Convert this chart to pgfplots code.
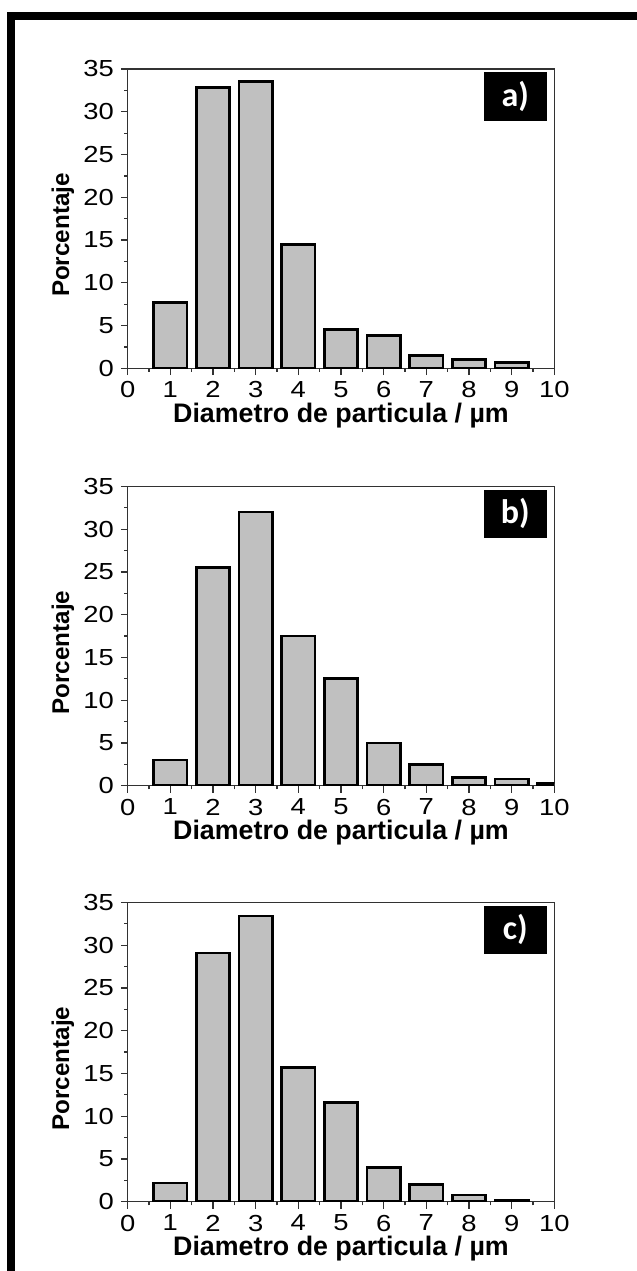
\documentclass[border=0pt]{standalone}
\usepackage{fontspec}
\setmainfont{Liberation Sans}
\newfontfamily\carlito{Carlito}
\usepackage{graphicx}
\usepackage{pgfplots}
\pgfplotsset{compat=1.18}
\definecolor{barfill}{RGB}{192,192,192}
\definecolor{axgray}{RGB}{50,50,50}
\pgfplotsset{
  panel/.style={
    scale only axis, width=213.3pt, height=149.65pt,
    xmin=0, xmax=10, ymin=0, ymax=35,
    xtick={0,1,...,10}, ytick={0,5,...,35},
    minor x tick num=1, minor y tick num=1,
    tick pos=left, tick align=outside,
    major tick length=3.4pt, minor tick length=1.8pt,
    axis line style={line width=0.6pt, axgray},
    every tick/.style={line width=0.6pt, axgray},
    ticklabel style={font=\fontsize{11.6}{13}\selectfont},
    xticklabel style={inner sep=1pt, yshift=-2pt},
    /pgf/number format/assume math mode=true,
    xticklabel={\scalebox{1.18}[1]{\pgfmathprintnumber{\tick}}},
    yticklabel={\scalebox{1.18}[1]{\pgfmathprintnumber{\tick}}},
    xlabel={Diametro de particula / µm},
    ylabel={Porcentaje},
    xlabel style={font=\bfseries\fontsize{13.4}{15}\selectfont, inner sep=1pt,
      at={(axis description cs:0.5,-0.1794)}, anchor=base},
    ylabel style={font=\bfseries\fontsize{12.1}{14}\selectfont,
      at={(axis description cs:-0.1517,0.445)}, anchor=center},
    ybar, bar width=0.78,
    cycle list={{fill=barfill, draw=black}},
    every axis plot post/.append style={line width=1.35pt},
  },
}
\tikzset{
  tag/.style={fill=black, text=white, minimum width=31.35pt, minimum height=24.2pt,
    inner sep=0pt, font=\carlito\bfseries\fontsize{17}{17}\selectfont},
}
\begin{document}
\begin{tikzpicture}
\path[use as bounding box] (0,0) rectangle (318.5pt,-635.5pt);
\fill[black] (3.5pt,-6pt) rectangle (318.5pt,-10pt);
\fill[black] (3.5pt,-6pt) rectangle (7.5pt,-635.5pt);

\begin{axis}[panel, at={(63.85pt,-184.15pt)}, anchor=south west]
\addplot coordinates {(1,7.7) (2,32.8) (3,33.5) (4,14.5) (5,4.5) (6,3.8) (7,1.5) (8,1.0) (9,0.7)};
\node[tag] at (axis description cs:0.9086,0.908) {a)};
\end{axis}

\begin{axis}[panel, at={(63.85pt,-392.85pt)}, anchor=south west]
\addplot coordinates {(1,3.0) (2,25.5) (3,32.0) (4,17.5) (5,12.5) (6,5.0) (7,2.5) (8,1.0) (9,0.8) (10,0.25)};
\node[tag] at (axis description cs:0.9086,0.908) {b)};
\end{axis}

\begin{axis}[panel, at={(63.85pt,-600.85pt)}, anchor=south west]
\addplot coordinates {(1,2.2) (2,29.1) (3,33.4) (4,15.7) (5,11.6) (6,4.0) (7,2.0) (8,0.8) (9,0.2)};
\node[tag] at (axis description cs:0.9086,0.908) {c)};
\end{axis}
\end{tikzpicture}
\end{document}
